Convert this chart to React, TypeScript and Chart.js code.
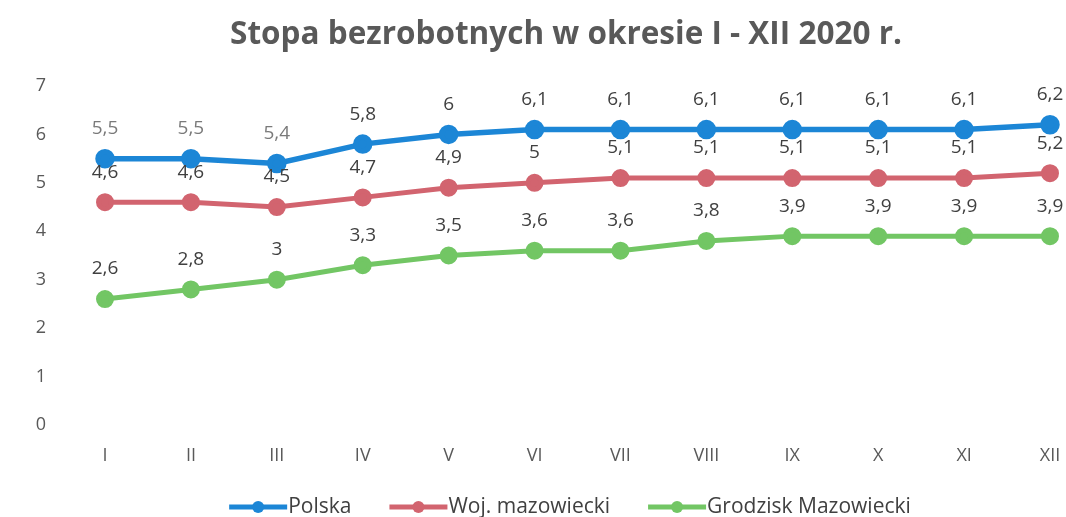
import React, { useEffect, useRef } from "react";
import { Chart, registerables } from "chart.js";

Chart.register(...registerables);

const months = ["I", "II", "III", "IV", "V", "VI", "VII", "VIII", "IX", "X", "XI", "XII"];
const polska = [5.5, 5.5, 5.4, 5.8, 6.0, 6.1, 6.1, 6.1, 6.1, 6.1, 6.1, 6.2];
const mazowieckie = [4.6, 4.6, 4.5, 4.7, 4.9, 5.0, 5.1, 5.1, 5.1, 5.1, 5.1, 5.2];
const grodzisk = [2.6, 2.8, 3.0, 3.3, 3.5, 3.6, 3.6, 3.8, 3.9, 3.9, 3.9, 3.9];
const seriesNames = ["Polska", "Woj. mazowiecki", "Grodzisk Mazowiecki"];
const seriesColors = ["#1c86d6", "#d2646f", "#72c664"];
const lineWidths = [5.5, 5, 5];
const pointRadii = [7, 6.5, 6.5];
const titleText = "Stopa bezrobotnych w okresie I - XII 2020 r.";

const FONT = "'Open Sans', 'Liberation Sans', sans-serif";

const fmt = (v: number) => String(v).replace(".", ",");

const labelPlugin = {
  id: "valueLabels",
  afterDatasetsDraw(chart: any) {
    const ctx = chart.ctx;
    ctx.save();
    ctx.font = `19px ${FONT}`;
    ctx.textAlign = "center";
    ctx.textBaseline = "middle";
    chart.data.datasets.forEach((ds: any, di: number) => {
      const meta = chart.getDatasetMeta(di);
      meta.data.forEach((pt: any, i: number) => {
        ctx.fillStyle = di === 0 && i < 3 ? "#7a7a7a" : "#404040";
        ctx.fillText(fmt(ds.data[i]), pt.x, pt.y - 30);
      });
    });
    ctx.restore();
  },
};

const titlePlugin = {
  id: "customTitle",
  afterDraw(chart: any) {
    const ctx = chart.ctx;
    ctx.save();
    ctx.font = `bold 31.5px ${FONT}`;
    ctx.fillStyle = "#595959";
    ctx.textAlign = "center";
    ctx.textBaseline = "middle";
    ctx.fillText(titleText, 566, 35);
    ctx.restore();
  },
};

const legendPlugin = {
  id: "lineLegend",
  afterDraw(chart: any) {
    const ctx = chart.ctx;
    ctx.save();
    ctx.font = `21px ${FONT}`;
    ctx.textBaseline = "middle";
    const lineW = 58;
    const gap = 1;
    const spacing = 38;
    const widths = seriesNames.map((n) => lineW + gap + ctx.measureText(n).width);
    const total = widths.reduce((a, b) => a + b, 0) + spacing * (widths.length - 1);
    let x = 570 - total / 2;
    const y = 507;
    seriesNames.forEach((n, i) => {
      ctx.strokeStyle = seriesColors[i];
      ctx.lineWidth = 5;
      ctx.beginPath();
      ctx.moveTo(x, y);
      ctx.lineTo(x + lineW, y);
      ctx.stroke();
      ctx.fillStyle = seriesColors[i];
      ctx.beginPath();
      ctx.arc(x + lineW / 2, y, 6, 0, Math.PI * 2);
      ctx.fill();
      ctx.fillStyle = "#404040";
      ctx.textAlign = "left";
      ctx.fillText(n, x + lineW + gap, y);
      x += widths[i] + spacing;
    });
    ctx.restore();
  },
};

export default function App() {
  const ref = useRef<HTMLCanvasElement>(null);
  useEffect(() => {
    document.body.style.margin = "0";
    const chart = new Chart(ref.current!, {
      type: "line",
      data: {
        labels: months,
        datasets: [polska, mazowieckie, grodzisk].map((d, i) => ({
          label: seriesNames[i],
          data: d,
          borderColor: seriesColors[i],
          backgroundColor: seriesColors[i],
          borderWidth: lineWidths[i],
          pointRadius: pointRadii[i],
          pointHoverRadius: pointRadii[i],
          tension: 0,
        })),
      },
      options: {
        responsive: false,
        animation: false,
        layout: { padding: { top: 86, right: 16, left: 0, bottom: 0 } },
        plugins: {
          legend: { display: false },
          tooltip: { enabled: false },
          title: { display: false },
        },
        scales: {
          x: {
            offset: false,
            grid: { display: false, drawTicks: false },
            border: { display: false },
            ticks: { color: "#595959", font: { family: FONT, size: 18 }, padding: 20 },
            afterFit: (s: any) => {
              s.height = 92;
              s.paddingRight = 0;
              s.paddingLeft = 0;
            },
          },
          y: {
            min: 0,
            max: 7,
            grid: { display: false, drawTicks: false },
            border: { display: false },
            ticks: {
              stepSize: 1,
              color: "#595959",
              font: { family: FONT, size: 18 },
              padding: 59,
            },
            afterFit: (s: any) => {
              s.width = 105;
              s.paddingTop = 0;
              s.paddingBottom = 0;
            },
          },
        },
      },
      plugins: [labelPlugin, titlePlugin, legendPlugin],
    });
    return () => chart.destroy();
  }, []);
  return <canvas ref={ref} width={1066} height={517} style={{ display: "block", background: "#fff" }} />;
}
